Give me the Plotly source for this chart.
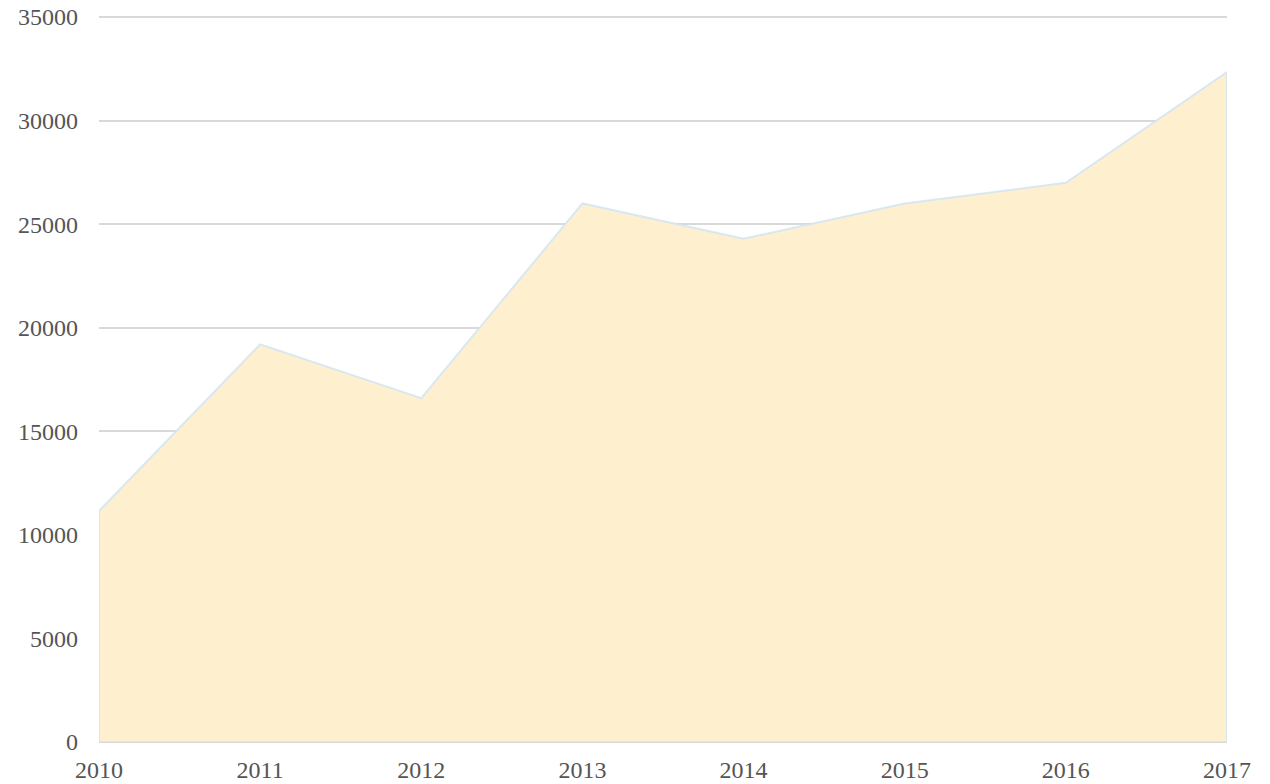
import plotly.graph_objects as go

years = [2010, 2011, 2012, 2013, 2014, 2015, 2016, 2017]
values = [11150, 19200, 16600, 26000, 24300, 26000, 27000, 32350]
y_ticks = [0, 5000, 10000, 15000, 20000, 25000, 30000, 35000]

# closed outline: data points then back along the baseline
poly_x = years + [years[-1], years[0], years[0]]
poly_y = values + [0, 0, values[0]]

fig = go.Figure()
fig.add_trace(go.Scatter(
    x=poly_x, y=poly_y, mode="lines", fill="toself",
    fillcolor="#FEF0CF",
    line=dict(color="rgba(210,228,245,0.85)", width=2),
    hoverinfo="skip", showlegend=False,
))

fig.update_layout(
    width=1270, height=784,
    margin=dict(l=91, r=51, t=7, b=50),
    paper_bgcolor="white", plot_bgcolor="white",
    font=dict(family="Liberation Serif, Times New Roman, serif", size=24, color="#555555"),
    showlegend=False,
    xaxis=dict(
        range=[2010, 2017], tickvals=years, ticktext=[str(y) for y in years],
        showgrid=False, zeroline=False, showline=False, ticks="",
        ticklabelstandoff=11, automargin=False, ticklabeloverflow="allow",
    ),
    yaxis=dict(
        range=[0, 35100], tickvals=y_ticks, ticktext=[str(v) for v in y_ticks],
        showgrid=True, gridcolor="#D9D9D9", gridwidth=1.5,
        zeroline=True, zerolinecolor="#D9D9D9", zerolinewidth=2,
        showline=False, ticks="", ticklabelstandoff=20, automargin=False,
        ticklabeloverflow="allow",
    ),
)

fig.write_html("out.html")
